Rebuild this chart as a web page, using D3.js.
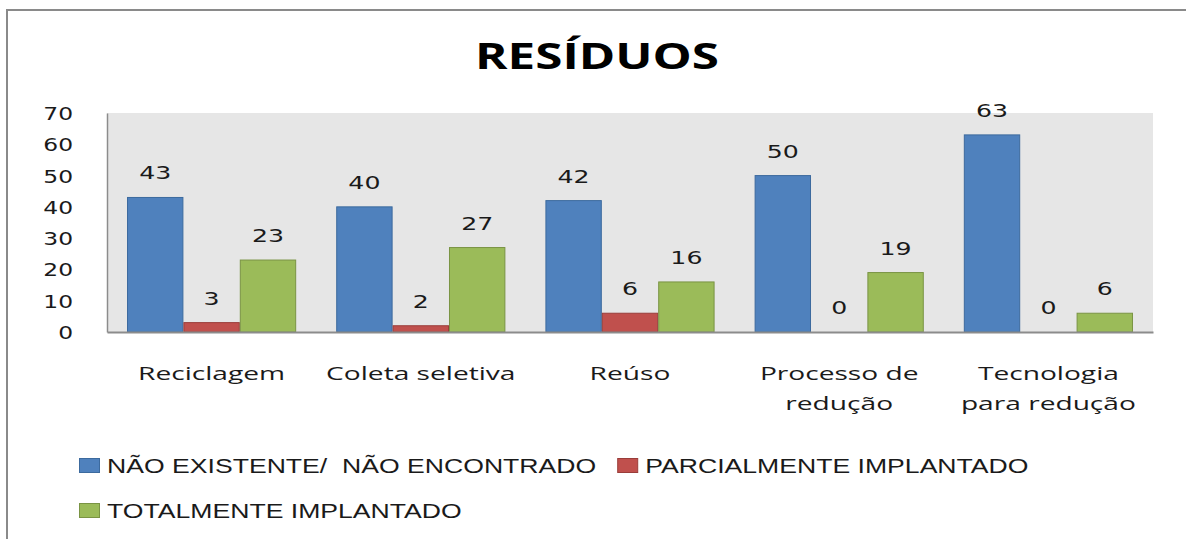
<!DOCTYPE html>
<html>
<head>
<meta charset="utf-8">
<script src="https://cdn.jsdelivr.net/npm/d3@7"></script>
<style>
  html, body { margin: 0; padding: 0; background: #ffffff; }
  svg { display: block; }
  text { white-space: pre; }
</style>
</head>
<body>
<script>
// ---- data ----
const categories = ["Reciclagem", "Coleta seletiva", "Reúso", "Processo de redução", "Tecnologia para redução"];
const categoryLines = [["Reciclagem"], ["Coleta seletiva"], ["Reúso"], ["Processo de", "redução"], ["Tecnologia", "para redução"]];
const seriesNames = ["NÃO EXISTENTE/  NÃO ENCONTRADO", "PARCIALMENTE IMPLANTADO", "TOTALMENTE IMPLANTADO"];
const naoExistente = [43, 40, 42, 50, 63];
const parcialmente = [3, 2, 6, 0, 0];
const totalmente = [23, 27, 16, 19, 6];
const yTicks = [0, 10, 20, 30, 40, 50, 60, 70];
const titleText = "RESÍDUOS";

// ---- styles ----
const fills = ["#4F81BD", "#C0504D", "#9BBB59"];
const strokes = ["#3C6A9E", "#9A3D3A", "#7A9444"];

const W = 1186, H = 539;
const plot = { left: 107, right: 1153, top: 113, bottom: 332 };

const svg = d3.select("body").append("svg").attr("width", W).attr("height", H);

function stretch(sel, k) {
  sel.each(function () {
    const l = this.getComputedTextLength();
    this.setAttribute("textLength", l * k);
    this.setAttribute("lengthAdjust", "spacingAndGlyphs");
  });
  return sel;
}

// chart border (extends beyond right/bottom edges)
svg.append("rect")
  .attr("x", 7).attr("y", 10).attr("width", 1300).attr("height", 700)
  .attr("fill", "none").attr("stroke", "#8a8a8a").attr("stroke-width", 2);

// title
stretch(svg.append("text")
  .attr("x", 597).attr("y", 69)
  .attr("text-anchor", "middle")
  .attr("font-family", "'Open Sans', sans-serif")
  .attr("font-weight", "bold")
  .attr("font-size", 36)
  .attr("fill", "#000")
  .text(titleText), 1.37);

// scales
const x0 = d3.scaleBand().domain(categories).range([plot.left, plot.right]).paddingInner(0).paddingOuter(0);
const x1 = d3.scaleBand().domain(d3.range(3)).range([0, x0.bandwidth()]).paddingInner(0).paddingOuter(0.355);
const y = d3.scaleLinear().domain([0, 70]).range([plot.bottom, plot.top]);

// plot background
svg.append("rect")
  .attr("x", plot.left).attr("y", plot.top)
  .attr("width", plot.right - plot.left).attr("height", plot.bottom - plot.top)
  .attr("fill", "#E6E6E6");

const seriesValues = [naoExistente, parcialmente, totalmente];

// bars
const groups = svg.append("g").selectAll("g")
  .data(categories)
  .join("g")
  .attr("transform", d => `translate(${x0(d)},0)`);

groups.each(function (cat, ci) {
  const g = d3.select(this);
  const vals = seriesValues.map((s, si) => ({ si, v: s[ci] }));
  g.selectAll("rect")
    .data(vals)
    .join("rect")
    .attr("x", d => x1(d.si) + 0.5)
    .attr("y", d => y(d.v))
    .attr("width", x1.bandwidth() - 1)
    .attr("height", d => y(0) - y(d.v))
    .attr("fill", d => fills[d.si])
    .attr("stroke", d => d.v > 0 ? strokes[d.si] : "none")
    .attr("stroke-width", 1);
  const lbl = g.selectAll("text")
    .data(vals)
    .join("text")
    .attr("x", d => x1(d.si) + x1.bandwidth() / 2)
    .attr("y", d => y(d.v) - 18)
    .attr("text-anchor", "middle")
    .attr("font-family", "'DejaVu Sans', sans-serif")
    .attr("font-size", 18)
    .attr("fill", "#1a1a1a")
    .text(d => d.v);
  stretch(lbl, 1.4);
});

// y axis
const yAxis = svg.append("g")
  .attr("transform", `translate(${plot.left},0)`)
  .call(d3.axisLeft(y).tickValues(yTicks).tickSize(0).tickPadding(34).tickFormat(d3.format("d")));
yAxis.select(".domain").attr("stroke", "#8c8c8c").attr("stroke-width", 1.5);
yAxis.selectAll("text")
  .attr("font-family", "'DejaVu Sans', sans-serif")
  .attr("font-size", 18)
  .attr("fill", "#1a1a1a")
  .attr("dy", "0.36em");
stretch(yAxis.selectAll("text"), 1.3);

// x axis baseline
const xAxis = svg.append("g")
  .attr("transform", `translate(0,${plot.bottom})`)
  .call(d3.axisBottom(x0).tickSize(0).tickFormat(""));
xAxis.select(".domain").attr("stroke", "#8c8c8c").attr("stroke-width", 2);

// category labels
const catG = svg.append("g");
categories.forEach((c, i) => {
  categoryLines[i].forEach((line, li) => {
    const t = catG.append("text")
      .attr("x", x0(c) + x0.bandwidth() / 2)
      .attr("y", 380 + li * 30)
      .attr("text-anchor", "middle")
      .attr("font-family", "'Open Sans', sans-serif")
      .attr("font-size", 19)
      .attr("fill", "#1a1a1a")
      .text(line);
    stretch(t, 1.48);
  });
});

// legend
const legendG = svg.append("g")
  .attr("font-family", "'Liberation Sans', Arial, sans-serif")
  .attr("font-size", 20)
  .attr("fill", "#1a1a1a");
const legendRows = [[0, 1], [2]];
legendRows.forEach((row, ri) => {
  let cx = 79;
  const baseY = 473 + ri * 45;
  row.forEach(si => {
    legendG.append("rect")
      .attr("x", cx + 0.5).attr("y", baseY - 15 + 0.5)
      .attr("width", 20).attr("height", 14)
      .attr("fill", fills[si]).attr("stroke", strokes[si]).attr("stroke-width", 1);
    const t = legendG.append("text")
      .attr("x", cx + 28).attr("y", baseY)
      .text(seriesNames[si]);
    stretch(t, 1.33);
    cx = cx + 28 + t.node().getComputedTextLength() + 21;
  });
});
</script>
</body>
</html>
